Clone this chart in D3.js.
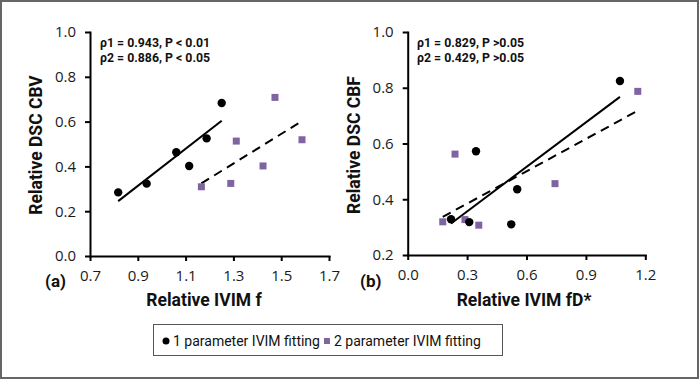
<!DOCTYPE html>
<html><head><meta charset="utf-8">
<script src="https://cdn.jsdelivr.net/npm/d3@7/dist/d3.min.js"></script>
<style>
html,body{margin:0;padding:0;background:#fff;}
svg{display:block;font-family:Roboto,"Open Sans",sans-serif;}
</style></head>
<body>
<svg id="chart" width="699" height="380"></svg>
<script>
// ---- data ----
const panelA_x1 = [0.818, 0.937, 1.061, 1.115, 1.188, 1.251];
const panelA_y1 = [0.284, 0.323, 0.463, 0.402, 0.525, 0.683];
const panelA_x2 = [1.166, 1.289, 1.312, 1.424, 1.474, 1.587];
const panelA_y2 = [0.309, 0.324, 0.513, 0.402, 0.708, 0.519];
const panelB_x1 = [0.219, 0.311, 0.345, 0.523, 0.553, 1.072];
const panelB_y1 = [0.328, 0.318, 0.572, 0.310, 0.436, 0.824];
const panelB_x2 = [0.177, 0.239, 0.289, 0.359, 0.744, 1.162];
const panelB_y2 = [0.319, 0.562, 0.327, 0.307, 0.456, 0.787];
const panelA_xTicks = [0.7, 0.9, 1.1, 1.3, 1.5, 1.7];
const panelA_yTicks = [0.0, 0.2, 0.4, 0.6, 0.8, 1.0];
const panelB_xTicks = [0.0, 0.3, 0.6, 0.9, 1.2];
const panelB_yTicks = [0.2, 0.4, 0.6, 0.8, 1.0];
const panelA_notes = ["ρ1 = 0.943, P < 0.01", "ρ2 = 0.886, P < 0.05"];
const panelB_notes = ["ρ1 =  0.829, P >0.05", "ρ2 =  0.429, P >0.05"];
const seriesNames = ["1 parameter IVIM fitting", "2 parameter IVIM fitting"];

const purple = "#8064A2";
const svg = d3.select("#chart");

// outer frame
svg.append("rect").attr("x",1).attr("y",1).attr("width",697).attr("height",377)
  .attr("fill","none").attr("stroke","#666").attr("stroke-width",2);

function fit(xs, ys){
  const n = xs.length, mx = d3.mean(xs), my = d3.mean(ys);
  let sxy=0, sxx=0;
  for(let i=0;i<n;i++){ sxy += (xs[i]-mx)*(ys[i]-my); sxx += (xs[i]-mx)**2; }
  const b = sxy/sxx, a = my - b*mx;
  const x0 = d3.min(xs), x1 = d3.max(xs);
  return [[x0, a+b*x0],[x1, a+b*x1]];
}

function panel(cfg){
  const g = svg.append("g");
  const x = d3.scaleLinear().domain(cfg.xDomain).range(cfg.xRange);
  const y = d3.scaleLinear().domain(cfg.yDomain).range(cfg.yRange);

  const fmt = d3.format(".1f");
  const ya = g.append("g").attr("transform",`translate(${cfg.xRange[0]},0)`)
    .call(d3.axisLeft(y).tickValues(cfg.yTicks).tickSize(5).tickSizeOuter(0).tickPadding(9).tickFormat(fmt));
  const xa = g.append("g").attr("transform",`translate(0,${cfg.yRange[0]})`)
    .call(d3.axisBottom(x).tickValues(cfg.xTicks).tickSize(5).tickSizeOuter(0).tickPadding(9).tickFormat(fmt));
  [ya, xa].forEach(a=>{
    a.select(".domain").attr("stroke","#000").attr("stroke-width",2).attr("stroke-linecap","square");
    a.selectAll(".tick line").attr("stroke","#000").attr("stroke-width",2);
    a.selectAll(".tick text").attr("fill","#1a1a1a").style("font-size","15px")
      .style("font-family","'Open Sans', sans-serif");
  });

  // regression lines
  const line = d3.line().x(d=>x(d[0])).y(d=>y(d[1]));
  g.append("path").datum(fit(cfg.x1, cfg.y1)).attr("d", line)
    .attr("stroke","#000").attr("stroke-width",2).attr("fill","none");
  g.append("path").datum(fit(cfg.x2, cfg.y2)).attr("d", line)
    .attr("stroke","#000").attr("stroke-width",2).attr("fill","none").attr("stroke-dasharray","9,6");

  // points
  g.selectAll("rect.s2").data(d3.zip(cfg.x2, cfg.y2)).join("rect").attr("class","s2")
    .attr("x",d=>x(d[0])-3.5).attr("y",d=>y(d[1])-3.5).attr("width",7).attr("height",7)
    .attr("fill",purple);
  g.selectAll("circle.s1").data(d3.zip(cfg.x1, cfg.y1)).join("circle").attr("class","s1")
    .attr("cx",d=>x(d[0])).attr("cy",d=>y(d[1])).attr("r",4.2).attr("fill","#000");

  // notes
  cfg.notes.forEach((t,i)=>{
    g.append("text").attr("x",cfg.noteX).attr("y",46.5+i*15.7).text(t)
      .style("font-size","12.3px").style("font-weight","bold").attr("fill","#111");
  });

  // axis titles
  g.append("text").attr("x",cfg.xTitleX).attr("y",306).attr("text-anchor","middle")
    .style("font-size",cfg.xTitleSize+"px").style("font-weight","bold").attr("fill","#111").text(cfg.xTitle);
  g.append("text").attr("transform",`translate(${cfg.yTitleX},145) rotate(-90)`).attr("text-anchor","middle")
    .style("font-size","17.5px").style("font-weight","bold").attr("fill","#111").text(cfg.yTitle);
  g.append("text").attr("x",cfg.labelX).attr("y",287).text(cfg.label)
    .style("font-size","17px").style("font-weight","bold").attr("fill","#111");
}

panel({xDomain:[0.7,1.7], xRange:[90,329], yDomain:[0,1], yRange:[256,32],
  xTicks:panelA_xTicks, yTicks:panelA_yTicks,
  x1:panelA_x1, y1:panelA_y1, x2:panelA_x2, y2:panelA_y2,
  notes:panelA_notes, noteX:100, xTitle:"Relative IVIM f", xTitleX:204, xTitleSize:17.5,
  yTitle:"Relative DSC CBV", yTitleX:41.5, label:"(a)", labelX:45});

panel({xDomain:[0,1.2], xRange:[407.7,645.3], yDomain:[0.2,1.0], yRange:[255,32],
  xTicks:panelB_xTicks, yTicks:panelB_yTicks,
  x1:panelB_x1, y1:panelB_y1, x2:panelB_x2, y2:panelB_y2,
  notes:panelB_notes, noteX:417, xTitle:"Relative IVIM fD*", xTitleX:524, xTitleSize:17.5,
  yTitle:"Relative DSC CBF", yTitleX:360, label:"(b)", labelX:360});

// legend
const lg = svg.append("g");
lg.append("rect").attr("x",153.5).attr("y",324.5).attr("width",349).attr("height",31)
  .attr("fill","#fff").attr("stroke","#555").attr("stroke-width",1);
lg.append("circle").attr("cx",166).attr("cy",341).attr("r",3.5).attr("fill","#000");
const t1 = lg.append("text").attr("x",173).attr("y",346).text(seriesNames[0])
  .style("font-size","14px").attr("fill","#111");
const w1 = t1.node().getComputedTextLength();
const sqX = 173 + w1 + 4;
lg.append("rect").attr("x",sqX).attr("y",338).attr("width",6).attr("height",6).attr("fill",purple);
lg.append("text").attr("x",sqX + 10).attr("y",346).text(seriesNames[1])
  .style("font-size","14px").attr("fill","#111");
</script>
</body></html>
